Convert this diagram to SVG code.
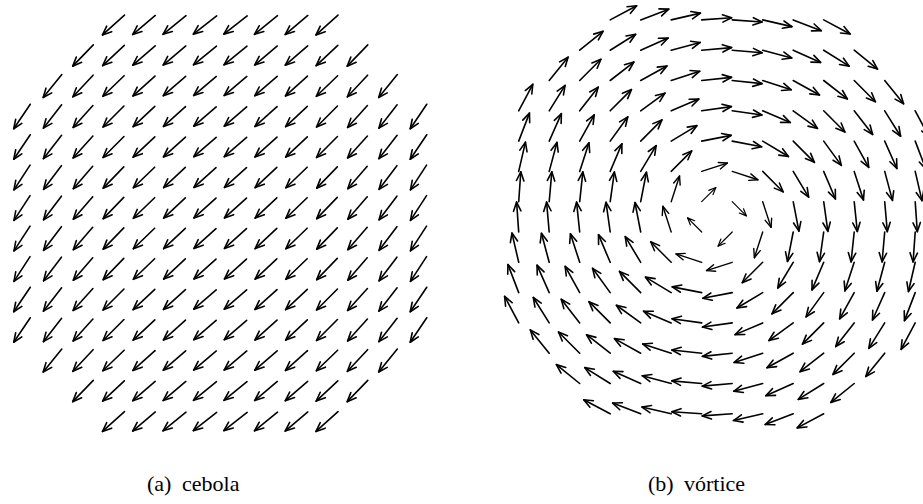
<svg xmlns="http://www.w3.org/2000/svg" xmlns:xlink="http://www.w3.org/1999/xlink" width="923" height="504" viewBox="0 0 923 504">
<style>
.cap{font-family:"Liberation Serif","Times New Roman",serif;font-size:22px;fill:#000}
</style>
<defs>
<g id="L" fill="none" stroke="#000" stroke-width="1.6" stroke-linecap="round" stroke-linejoin="round"><line x1="-14.8" y1="0" x2="14.8" y2="0"/><path d="M5.8,-3.7 L14.8,0 L5.8,3.7"/></g>
<g id="v30" fill="none" stroke="#000" stroke-width="1.6" stroke-linecap="round" stroke-linejoin="round"><line x1="0" y1="0" x2="30" y2="0"/><path d="M21,-3.7 L30,0 L21,3.7"/></g>
<g id="v29" fill="none" stroke="#000" stroke-width="1.5" stroke-linecap="round" stroke-linejoin="round"><line x1="0" y1="0" x2="29" y2="0"/><path d="M20,-3.6 L29,0 L20,3.6"/></g>
<g id="v27" fill="none" stroke="#000" stroke-width="1.4" stroke-linecap="round" stroke-linejoin="round"><line x1="0" y1="0" x2="27" y2="0"/><path d="M18.5,-3.4 L27,0 L18.5,3.4"/></g>
<g id="v20" fill="none" stroke="#000" stroke-width="1.2" stroke-linecap="round" stroke-linejoin="round"><line x1="0" y1="0" x2="20" y2="0"/><path d="M13,-3 L20,0 L13,3"/></g>
</defs>
<rect width="923" height="504" fill="#fff"/>
<g id="cebola">
<g transform="translate(0 25)">
<use href="#L" transform="translate(113.5) rotate(138)"/><use href="#L" transform="translate(144) rotate(140)"/><use href="#L" transform="translate(174.5) rotate(141)"/><use href="#L" transform="translate(205) rotate(142)"/><use href="#L" transform="translate(235.5) rotate(142)"/><use href="#L" transform="translate(266) rotate(141)"/><use href="#L" transform="translate(296.5) rotate(140)"/><use href="#L" transform="translate(327) rotate(138)"/>
</g>
<g transform="translate(0 55.5)">
<use href="#L" transform="translate(83) rotate(134)"/><use href="#L" transform="translate(113.5) rotate(137)"/><use href="#L" transform="translate(144) rotate(139)"/><use href="#L" transform="translate(174.5) rotate(140)"/><use href="#L" transform="translate(205) rotate(141)"/><use href="#L" transform="translate(235.5) rotate(141)"/><use href="#L" transform="translate(266) rotate(140)"/><use href="#L" transform="translate(296.5) rotate(139)"/><use href="#L" transform="translate(327) rotate(137)"/><use href="#L" transform="translate(357.5) rotate(134)"/>
</g>
<g transform="translate(0 86)">
<use href="#L" transform="translate(52.5) rotate(129)"/><use href="#L" transform="translate(83) rotate(133)"/><use href="#L" transform="translate(113.5) rotate(136)"/><use href="#L" transform="translate(144) rotate(138)"/><use href="#L" transform="translate(174.5) rotate(139)"/><use href="#L" transform="translate(205) rotate(140)"/><use href="#L" transform="translate(235.5) rotate(140)"/><use href="#L" transform="translate(266) rotate(139)"/><use href="#L" transform="translate(296.5) rotate(138)"/><use href="#L" transform="translate(327) rotate(136)"/><use href="#L" transform="translate(357.5) rotate(133)"/><use href="#L" transform="translate(388) rotate(129)"/>
</g>
<g transform="translate(0 116.5)">
<use href="#L" transform="translate(22) rotate(124)"/><use href="#L" transform="translate(52.5) rotate(128)"/><use href="#L" transform="translate(83) rotate(132)"/><use href="#L" transform="translate(113.5) rotate(135)"/><use href="#L" transform="translate(144) rotate(137)"/><use href="#L" transform="translate(174.5) rotate(138)"/><use href="#L" transform="translate(205) rotate(139)"/><use href="#L" transform="translate(235.5) rotate(139)"/><use href="#L" transform="translate(266) rotate(138)"/><use href="#L" transform="translate(296.5) rotate(137)"/><use href="#L" transform="translate(327) rotate(135)"/><use href="#L" transform="translate(357.5) rotate(132)"/><use href="#L" transform="translate(388) rotate(128)"/><use href="#L" transform="translate(418.5) rotate(124)"/>
</g>
<g transform="translate(0 147)">
<use href="#L" transform="translate(22) rotate(124)"/><use href="#L" transform="translate(52.5) rotate(128)"/><use href="#L" transform="translate(83) rotate(132)"/><use href="#L" transform="translate(113.5) rotate(135)"/><use href="#L" transform="translate(144) rotate(137)"/><use href="#L" transform="translate(174.5) rotate(138)"/><use href="#L" transform="translate(205) rotate(139)"/><use href="#L" transform="translate(235.5) rotate(139)"/><use href="#L" transform="translate(266) rotate(138)"/><use href="#L" transform="translate(296.5) rotate(137)"/><use href="#L" transform="translate(327) rotate(135)"/><use href="#L" transform="translate(357.5) rotate(132)"/><use href="#L" transform="translate(388) rotate(128)"/><use href="#L" transform="translate(418.5) rotate(124)"/>
</g>
<g transform="translate(0 177.5)">
<use href="#L" transform="translate(22) rotate(123)"/><use href="#L" transform="translate(52.5) rotate(127)"/><use href="#L" transform="translate(83) rotate(131)"/><use href="#L" transform="translate(113.5) rotate(134)"/><use href="#L" transform="translate(144) rotate(136)"/><use href="#L" transform="translate(174.5) rotate(137)"/><use href="#L" transform="translate(205) rotate(138)"/><use href="#L" transform="translate(235.5) rotate(138)"/><use href="#L" transform="translate(266) rotate(137)"/><use href="#L" transform="translate(296.5) rotate(136)"/><use href="#L" transform="translate(327) rotate(134)"/><use href="#L" transform="translate(357.5) rotate(131)"/><use href="#L" transform="translate(388) rotate(127)"/><use href="#L" transform="translate(418.5) rotate(123)"/>
</g>
<g transform="translate(0 208)">
<use href="#L" transform="translate(22) rotate(123)"/><use href="#L" transform="translate(52.5) rotate(127)"/><use href="#L" transform="translate(83) rotate(131)"/><use href="#L" transform="translate(113.5) rotate(134)"/><use href="#L" transform="translate(144) rotate(136)"/><use href="#L" transform="translate(174.5) rotate(137)"/><use href="#L" transform="translate(205) rotate(138)"/><use href="#L" transform="translate(235.5) rotate(138)"/><use href="#L" transform="translate(266) rotate(137)"/><use href="#L" transform="translate(296.5) rotate(136)"/><use href="#L" transform="translate(327) rotate(134)"/><use href="#L" transform="translate(357.5) rotate(131)"/><use href="#L" transform="translate(388) rotate(127)"/><use href="#L" transform="translate(418.5) rotate(123)"/>
</g>
<g transform="translate(0 238.5)">
<use href="#L" transform="translate(22) rotate(123)"/><use href="#L" transform="translate(52.5) rotate(127)"/><use href="#L" transform="translate(83) rotate(131)"/><use href="#L" transform="translate(113.5) rotate(134)"/><use href="#L" transform="translate(144) rotate(136)"/><use href="#L" transform="translate(174.5) rotate(137)"/><use href="#L" transform="translate(205) rotate(138)"/><use href="#L" transform="translate(235.5) rotate(138)"/><use href="#L" transform="translate(266) rotate(137)"/><use href="#L" transform="translate(296.5) rotate(136)"/><use href="#L" transform="translate(327) rotate(134)"/><use href="#L" transform="translate(357.5) rotate(131)"/><use href="#L" transform="translate(388) rotate(127)"/><use href="#L" transform="translate(418.5) rotate(123)"/>
</g>
<g transform="translate(0 269)">
<use href="#L" transform="translate(22) rotate(123)"/><use href="#L" transform="translate(52.5) rotate(127)"/><use href="#L" transform="translate(83) rotate(131)"/><use href="#L" transform="translate(113.5) rotate(134)"/><use href="#L" transform="translate(144) rotate(136)"/><use href="#L" transform="translate(174.5) rotate(137)"/><use href="#L" transform="translate(205) rotate(138)"/><use href="#L" transform="translate(235.5) rotate(138)"/><use href="#L" transform="translate(266) rotate(137)"/><use href="#L" transform="translate(296.5) rotate(136)"/><use href="#L" transform="translate(327) rotate(134)"/><use href="#L" transform="translate(357.5) rotate(131)"/><use href="#L" transform="translate(388) rotate(127)"/><use href="#L" transform="translate(418.5) rotate(123)"/>
</g>
<g transform="translate(0 299.5)">
<use href="#L" transform="translate(22) rotate(124)"/><use href="#L" transform="translate(52.5) rotate(128)"/><use href="#L" transform="translate(83) rotate(132)"/><use href="#L" transform="translate(113.5) rotate(135)"/><use href="#L" transform="translate(144) rotate(137)"/><use href="#L" transform="translate(174.5) rotate(138)"/><use href="#L" transform="translate(205) rotate(139)"/><use href="#L" transform="translate(235.5) rotate(139)"/><use href="#L" transform="translate(266) rotate(138)"/><use href="#L" transform="translate(296.5) rotate(137)"/><use href="#L" transform="translate(327) rotate(135)"/><use href="#L" transform="translate(357.5) rotate(132)"/><use href="#L" transform="translate(388) rotate(128)"/><use href="#L" transform="translate(418.5) rotate(124)"/>
</g>
<g transform="translate(0 330)">
<use href="#L" transform="translate(22) rotate(124)"/><use href="#L" transform="translate(52.5) rotate(128)"/><use href="#L" transform="translate(83) rotate(132)"/><use href="#L" transform="translate(113.5) rotate(135)"/><use href="#L" transform="translate(144) rotate(137)"/><use href="#L" transform="translate(174.5) rotate(138)"/><use href="#L" transform="translate(205) rotate(139)"/><use href="#L" transform="translate(235.5) rotate(139)"/><use href="#L" transform="translate(266) rotate(138)"/><use href="#L" transform="translate(296.5) rotate(137)"/><use href="#L" transform="translate(327) rotate(135)"/><use href="#L" transform="translate(357.5) rotate(132)"/><use href="#L" transform="translate(388) rotate(128)"/><use href="#L" transform="translate(418.5) rotate(124)"/>
</g>
<g transform="translate(0 360.5)">
<use href="#L" transform="translate(52.5) rotate(129)"/><use href="#L" transform="translate(83) rotate(133)"/><use href="#L" transform="translate(113.5) rotate(136)"/><use href="#L" transform="translate(144) rotate(138)"/><use href="#L" transform="translate(174.5) rotate(139)"/><use href="#L" transform="translate(205) rotate(140)"/><use href="#L" transform="translate(235.5) rotate(140)"/><use href="#L" transform="translate(266) rotate(139)"/><use href="#L" transform="translate(296.5) rotate(138)"/><use href="#L" transform="translate(327) rotate(136)"/><use href="#L" transform="translate(357.5) rotate(133)"/><use href="#L" transform="translate(388) rotate(129)"/>
</g>
<g transform="translate(0 391)">
<use href="#L" transform="translate(83) rotate(134)"/><use href="#L" transform="translate(113.5) rotate(137)"/><use href="#L" transform="translate(144) rotate(139)"/><use href="#L" transform="translate(174.5) rotate(140)"/><use href="#L" transform="translate(205) rotate(141)"/><use href="#L" transform="translate(235.5) rotate(141)"/><use href="#L" transform="translate(266) rotate(140)"/><use href="#L" transform="translate(296.5) rotate(139)"/><use href="#L" transform="translate(327) rotate(137)"/><use href="#L" transform="translate(357.5) rotate(134)"/>
</g>
<g transform="translate(0 421.5)">
<use href="#L" transform="translate(113.5) rotate(138)"/><use href="#L" transform="translate(144) rotate(140)"/><use href="#L" transform="translate(174.5) rotate(141)"/><use href="#L" transform="translate(205) rotate(142)"/><use href="#L" transform="translate(235.5) rotate(142)"/><use href="#L" transform="translate(266) rotate(141)"/><use href="#L" transform="translate(296.5) rotate(140)"/><use href="#L" transform="translate(327) rotate(138)"/>
</g>
</g>
<g id="vortice">
<g transform="translate(0 19.9)">
<use href="#v30" transform="translate(610.2) rotate(-28)"/><use href="#v30" transform="translate(640.7) rotate(-21)"/><use href="#v30" transform="translate(671.2) rotate(-13)"/><use href="#v30" transform="translate(701.7) rotate(-4)"/><use href="#v30" transform="translate(732.2) rotate(4)"/><use href="#v30" transform="translate(762.7) rotate(13)"/><use href="#v30" transform="translate(793.2) rotate(21)"/><use href="#v30" transform="translate(823.7) rotate(28)"/>
</g>
<g transform="translate(0 50.2)">
<use href="#v30" transform="translate(579.7) rotate(-39)"/><use href="#v30" transform="translate(610.2) rotate(-32)"/><use href="#v30" transform="translate(640.7) rotate(-24)"/><use href="#v30" transform="translate(671.2) rotate(-15)"/><use href="#v30" transform="translate(701.7) rotate(-5)"/><use href="#v30" transform="translate(732.2) rotate(5)"/><use href="#v30" transform="translate(762.7) rotate(15)"/><use href="#v30" transform="translate(793.2) rotate(24)"/><use href="#v30" transform="translate(823.7) rotate(32)"/><use href="#v30" transform="translate(854.2) rotate(39)"/>
</g>
<g transform="translate(0 80.5)">
<use href="#v30" transform="translate(549.2) rotate(-51)"/><use href="#v30" transform="translate(579.7) rotate(-45)"/><use href="#v30" transform="translate(610.2) rotate(-38)"/><use href="#v30" transform="translate(640.7) rotate(-29)"/><use href="#v30" transform="translate(671.2) rotate(-18)"/><use href="#v30" transform="translate(701.7) rotate(-6)"/><use href="#v30" transform="translate(732.2) rotate(6)"/><use href="#v30" transform="translate(762.7) rotate(18)"/><use href="#v30" transform="translate(793.2) rotate(29)"/><use href="#v30" transform="translate(823.7) rotate(38)"/><use href="#v30" transform="translate(854.2) rotate(45)"/><use href="#v30" transform="translate(884.7) rotate(51)"/>
</g>
<g transform="translate(0 110.8)">
<use href="#v30" transform="translate(518.7) rotate(-62)"/><use href="#v30" transform="translate(549.2) rotate(-58)"/><use href="#v30" transform="translate(579.7) rotate(-52)"/><use href="#v30" transform="translate(610.2) rotate(-45)"/><use href="#v30" transform="translate(640.7) rotate(-36)"/><use href="#v30" transform="translate(671.2) rotate(-23)"/><use href="#v30" transform="translate(701.7) rotate(-8)"/><use href="#v30" transform="translate(732.2) rotate(8)"/><use href="#v30" transform="translate(762.7) rotate(23)"/><use href="#v30" transform="translate(793.2) rotate(36)"/><use href="#v30" transform="translate(823.7) rotate(45)"/><use href="#v30" transform="translate(854.2) rotate(52)"/><use href="#v30" transform="translate(884.7) rotate(58)"/><use href="#v30" transform="translate(915.2) rotate(62)"/>
</g>
<g transform="translate(0 141.1)">
<use href="#v30" transform="translate(518.7) rotate(-69)"/><use href="#v30" transform="translate(549.2) rotate(-66)"/><use href="#v30" transform="translate(579.7) rotate(-61)"/><use href="#v30" transform="translate(610.2) rotate(-54)"/><use href="#v30" transform="translate(640.7) rotate(-45)"/><use href="#v30" transform="translate(671.2) rotate(-31)"/><use href="#v30" transform="translate(701.7) rotate(-11)"/><use href="#v30" transform="translate(732.2) rotate(11)"/><use href="#v30" transform="translate(762.7) rotate(31)"/><use href="#v30" transform="translate(793.2) rotate(45)"/><use href="#v30" transform="translate(823.7) rotate(54)"/><use href="#v30" transform="translate(854.2) rotate(61)"/><use href="#v30" transform="translate(884.7) rotate(66)"/><use href="#v30" transform="translate(915.2) rotate(69)"/>
</g>
<g transform="translate(0 171.4)">
<use href="#v30" transform="translate(518.7) rotate(-77)"/><use href="#v30" transform="translate(549.2) rotate(-75)"/><use href="#v30" transform="translate(579.7) rotate(-72)"/><use href="#v30" transform="translate(610.2) rotate(-67)"/><use href="#v30" transform="translate(640.7) rotate(-59)"/><use href="#v29" transform="translate(671.2) rotate(-45)"/><use href="#v27" transform="translate(701.7) rotate(-18)"/><use href="#v27" transform="translate(732.2) rotate(18)"/><use href="#v29" transform="translate(762.7) rotate(45)"/><use href="#v30" transform="translate(793.2) rotate(59)"/><use href="#v30" transform="translate(823.7) rotate(67)"/><use href="#v30" transform="translate(854.2) rotate(72)"/><use href="#v30" transform="translate(884.7) rotate(75)"/><use href="#v30" transform="translate(915.2) rotate(77)"/>
</g>
<g transform="translate(0 201.7)">
<use href="#v30" transform="translate(518.7) rotate(-86)"/><use href="#v30" transform="translate(549.2) rotate(-85)"/><use href="#v30" transform="translate(579.7) rotate(-84)"/><use href="#v30" transform="translate(610.2) rotate(-82)"/><use href="#v30" transform="translate(640.7) rotate(-79)"/><use href="#v27" transform="translate(671.2) rotate(-72)"/><use href="#v20" transform="translate(701.7) rotate(-45)"/><use href="#v20" transform="translate(732.2) rotate(45)"/><use href="#v27" transform="translate(762.7) rotate(72)"/><use href="#v30" transform="translate(793.2) rotate(79)"/><use href="#v30" transform="translate(823.7) rotate(82)"/><use href="#v30" transform="translate(854.2) rotate(84)"/><use href="#v30" transform="translate(884.7) rotate(85)"/><use href="#v30" transform="translate(915.2) rotate(86)"/>
</g>
<g transform="translate(0 232)">
<use href="#v30" transform="translate(518.7) rotate(266)"/><use href="#v30" transform="translate(549.2) rotate(265)"/><use href="#v30" transform="translate(579.7) rotate(264)"/><use href="#v30" transform="translate(610.2) rotate(262)"/><use href="#v30" transform="translate(640.7) rotate(259)"/><use href="#v27" transform="translate(671.2) rotate(252)"/><use href="#v20" transform="translate(701.7) rotate(225)"/><use href="#v20" transform="translate(732.2) rotate(135)"/><use href="#v27" transform="translate(762.7) rotate(108)"/><use href="#v30" transform="translate(793.2) rotate(101)"/><use href="#v30" transform="translate(823.7) rotate(98)"/><use href="#v30" transform="translate(854.2) rotate(96)"/><use href="#v30" transform="translate(884.7) rotate(95)"/><use href="#v30" transform="translate(915.2) rotate(94)"/>
</g>
<g transform="translate(0 262.3)">
<use href="#v30" transform="translate(518.7) rotate(257)"/><use href="#v30" transform="translate(549.2) rotate(255)"/><use href="#v30" transform="translate(579.7) rotate(252)"/><use href="#v30" transform="translate(610.2) rotate(247)"/><use href="#v30" transform="translate(640.7) rotate(239)"/><use href="#v29" transform="translate(671.2) rotate(225)"/><use href="#v27" transform="translate(701.7) rotate(198)"/><use href="#v27" transform="translate(732.2) rotate(162)"/><use href="#v29" transform="translate(762.7) rotate(135)"/><use href="#v30" transform="translate(793.2) rotate(121)"/><use href="#v30" transform="translate(823.7) rotate(113)"/><use href="#v30" transform="translate(854.2) rotate(108)"/><use href="#v30" transform="translate(884.7) rotate(105)"/><use href="#v30" transform="translate(915.2) rotate(103)"/>
</g>
<g transform="translate(0 292.6)">
<use href="#v30" transform="translate(518.7) rotate(249)"/><use href="#v30" transform="translate(549.2) rotate(246)"/><use href="#v30" transform="translate(579.7) rotate(241)"/><use href="#v30" transform="translate(610.2) rotate(234)"/><use href="#v30" transform="translate(640.7) rotate(225)"/><use href="#v30" transform="translate(671.2) rotate(211)"/><use href="#v30" transform="translate(701.7) rotate(191)"/><use href="#v30" transform="translate(732.2) rotate(169)"/><use href="#v30" transform="translate(762.7) rotate(149)"/><use href="#v30" transform="translate(793.2) rotate(135)"/><use href="#v30" transform="translate(823.7) rotate(126)"/><use href="#v30" transform="translate(854.2) rotate(119)"/><use href="#v30" transform="translate(884.7) rotate(114)"/><use href="#v30" transform="translate(915.2) rotate(111)"/>
</g>
<g transform="translate(0 322.9)">
<use href="#v30" transform="translate(518.7) rotate(242)"/><use href="#v30" transform="translate(549.2) rotate(238)"/><use href="#v30" transform="translate(579.7) rotate(232)"/><use href="#v30" transform="translate(610.2) rotate(225)"/><use href="#v30" transform="translate(640.7) rotate(216)"/><use href="#v30" transform="translate(671.2) rotate(203)"/><use href="#v30" transform="translate(701.7) rotate(188)"/><use href="#v30" transform="translate(732.2) rotate(172)"/><use href="#v30" transform="translate(762.7) rotate(157)"/><use href="#v30" transform="translate(793.2) rotate(144)"/><use href="#v30" transform="translate(823.7) rotate(135)"/><use href="#v30" transform="translate(854.2) rotate(128)"/><use href="#v30" transform="translate(884.7) rotate(122)"/><use href="#v30" transform="translate(915.2) rotate(118)"/>
</g>
<g transform="translate(0 353.2)">
<use href="#v30" transform="translate(549.2) rotate(231)"/><use href="#v30" transform="translate(579.7) rotate(225)"/><use href="#v30" transform="translate(610.2) rotate(218)"/><use href="#v30" transform="translate(640.7) rotate(209)"/><use href="#v30" transform="translate(671.2) rotate(198)"/><use href="#v30" transform="translate(701.7) rotate(186)"/><use href="#v30" transform="translate(732.2) rotate(174)"/><use href="#v30" transform="translate(762.7) rotate(162)"/><use href="#v30" transform="translate(793.2) rotate(151)"/><use href="#v30" transform="translate(823.7) rotate(142)"/><use href="#v30" transform="translate(854.2) rotate(135)"/><use href="#v30" transform="translate(884.7) rotate(129)"/>
</g>
<g transform="translate(0 383.5)">
<use href="#v30" transform="translate(579.7) rotate(219)"/><use href="#v30" transform="translate(610.2) rotate(212)"/><use href="#v30" transform="translate(640.7) rotate(204)"/><use href="#v30" transform="translate(671.2) rotate(195)"/><use href="#v30" transform="translate(701.7) rotate(185)"/><use href="#v30" transform="translate(732.2) rotate(175)"/><use href="#v30" transform="translate(762.7) rotate(165)"/><use href="#v30" transform="translate(793.2) rotate(156)"/><use href="#v30" transform="translate(823.7) rotate(148)"/><use href="#v30" transform="translate(854.2) rotate(141)"/>
</g>
<g transform="translate(0 413.8)">
<use href="#v30" transform="translate(610.2) rotate(208)"/><use href="#v30" transform="translate(640.7) rotate(201)"/><use href="#v30" transform="translate(671.2) rotate(193)"/><use href="#v30" transform="translate(701.7) rotate(184)"/><use href="#v30" transform="translate(732.2) rotate(176)"/><use href="#v30" transform="translate(762.7) rotate(167)"/><use href="#v30" transform="translate(793.2) rotate(159)"/><use href="#v30" transform="translate(823.7) rotate(152)"/>
</g>
</g>
<g id="captions">
<text class="cap" x="147" y="491">(a)<tspan x="182">cebola</tspan></text>
<text class="cap" x="648" y="491">(b)<tspan x="684">vórtice</tspan></text>
</g>
</svg>
